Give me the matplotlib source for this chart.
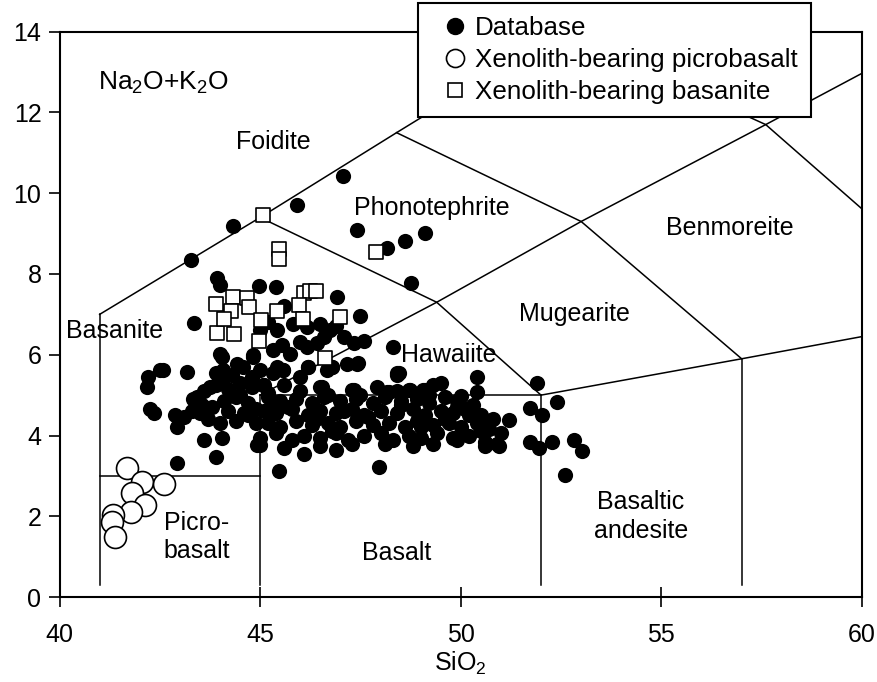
import matplotlib
matplotlib.use('Agg')
import matplotlib.pyplot as plt
from matplotlib.lines import Line2D

plt.rcParams['font.family'] = ['Liberation Sans', 'DejaVu Sans']
plt.rcParams['mathtext.fontset'] = 'custom'
plt.rcParams['mathtext.rm'] = 'Liberation Sans'
plt.rcParams['mathtext.it'] = 'Liberation Sans:italic'
plt.rcParams['mathtext.bf'] = 'Liberation Sans:bold'

# ---------------- data ----------------
db_x = [47.06, 45.91, 44.33, 43.28, 47.42, 48.15, 48.60, 49.10, 48.75,
        43.92, 44.00, 44.98, 45.40, 46.91, 47.50, 43.36, 48.30, 48.41, 48.45,
        45.00, 45.42, 45.83, 46.16, 46.50, 46.75, 47.08, 45.33, 45.75, 46.16,
        46.58, 47.33, 47.60, 44.83, 44.00, 44.42, 44.08, 44.58, 45.00, 45.42,
        46.00, 46.66, 47.16, 47.45, 46.79, 46.20, 45.54, 46.00, 46.41, 45.20,
        45.60, 46.90,
        42.59, 42.21, 42.17, 43.17, 42.26, 42.35, 42.88, 42.92, 43.33, 43.50,
        43.60, 44.04, 43.90, 42.92, 44.04, 44.83, 44.08, 43.75, 43.42, 44.92,
        42.51,
        43.60, 43.90, 44.20, 44.50, 44.80, 44.10, 44.40, 44.70, 43.80, 44.20,
        44.60, 44.90, 43.70, 44.00, 44.40, 44.70, 44.90, 43.30, 43.10, 44.30,
        44.80, 43.90, 44.50, 43.55,
        45.10, 45.60, 46.50, 47.30, 48.20, 48.70, 49.10, 49.50, 49.30, 50.00,
        50.40, 50.40, 47.90,
        45.20, 45.50, 45.90, 46.30, 46.60, 47.00, 47.40, 47.80, 48.10, 48.50,
        48.90, 49.20, 49.60, 49.90, 50.30,
        45.10, 45.40, 45.80, 46.20, 46.50, 46.90, 47.30, 47.60, 48.00, 48.40,
        48.80, 49.10, 49.50, 49.80, 50.10, 50.50, 50.80,
        45.20, 45.50, 45.90, 46.30, 46.70, 47.00, 47.40, 47.80, 48.20, 48.60,
        48.90, 49.30, 49.70, 50.00, 50.40, 50.70, 51.00,
        45.00, 45.40, 45.80, 46.10, 46.50, 46.90, 47.20, 47.60, 48.00, 48.30,
        48.70, 49.00, 49.40, 49.80, 50.20, 50.60, 50.90,
        45.00, 45.60, 46.10, 46.50, 46.90, 47.30, 48.10, 48.80, 49.30, 49.90,
        50.95, 50.60,
        45.46, 47.95, 51.20, 51.73, 52.02, 52.40, 51.90, 51.73, 52.27, 51.94,
        52.81, 53.02, 52.60, 50.65,
        45.08, 45.58, 46.54, 45.33, 45.58, 46.20, 46.79, 47.41, 48.41, 47.33,
        48.16, 48.74, 49.06,
        45.30, 45.70, 46.40, 46.80, 47.10, 47.70, 48.50, 49.00, 49.60, 50.20,
        45.20, 46.00, 46.70, 47.50, 48.40, 49.20, 49.90, 50.50]
db_y = [10.42, 9.72, 9.18, 8.34, 9.10, 8.64, 8.81, 9.02, 7.78,
        7.89, 7.72, 7.70, 7.67, 7.43, 6.95, 6.79, 6.18, 5.50, 5.56,
        6.61, 6.61, 6.77, 6.69, 6.77, 6.61, 6.44, 6.11, 6.03, 6.20,
        6.44, 6.28, 6.35, 5.95, 6.03, 5.78, 5.62, 5.70, 5.62, 5.70,
        5.45, 5.62, 5.78, 5.80, 5.70, 5.70, 6.24, 6.32, 6.28, 6.80,
        7.20, 6.70,
        5.62, 5.45, 5.21, 5.58, 4.65, 4.55, 4.50, 4.22, 4.90, 4.55,
        3.88, 3.93, 3.47, 3.31, 5.95, 5.99, 5.45, 5.21, 4.96, 3.76,
        5.62,
        5.10, 5.25, 5.15, 5.30, 5.20, 4.85, 4.95, 4.80, 4.70, 4.60,
        4.55, 4.65, 4.40, 4.30, 4.35, 4.50, 4.30, 4.60, 4.45, 5.50,
        5.45, 5.55, 5.00, 4.75,
        5.25, 5.25, 5.20, 5.12, 5.08, 5.12, 5.12, 5.30, 5.25, 4.98,
        5.08, 5.45, 5.20,
        4.95, 4.85, 4.90, 4.80, 4.95, 4.85, 4.90, 4.80, 4.95, 4.85,
        4.90, 4.80, 4.95, 4.85, 4.75,
        4.60, 4.55, 4.65, 4.50, 4.60, 4.55, 4.65, 4.50, 4.60, 4.55,
        4.65, 4.50, 4.60, 4.55, 4.65, 4.50, 4.40,
        4.30, 4.20, 4.35, 4.25, 4.30, 4.20, 4.35, 4.25, 4.30, 4.20,
        4.35, 4.25, 4.30, 4.20, 4.30, 4.15, 4.05,
        3.95, 4.05, 3.90, 4.00, 3.95, 4.05, 3.90, 4.00, 4.05, 3.90,
        4.00, 3.95, 4.05, 3.95, 4.00, 3.85, 3.80,
        3.76, 3.70, 3.55, 3.75, 3.65, 3.80, 3.80, 3.75, 3.80, 3.90,
        3.75, 3.75,
        3.12, 3.23, 4.38, 4.67, 4.50, 4.83, 5.29, 3.84, 3.84, 3.68,
        3.89, 3.62, 3.02, 4.22,
        5.25, 5.62, 5.21, 5.54, 5.62, 5.70, 5.70, 5.78, 5.54, 5.12,
        5.08, 5.12, 5.12,
        4.75, 4.70, 4.40, 4.10, 4.60, 4.45, 4.75, 4.20, 4.40, 4.50,
        5.05, 5.10, 5.00, 5.00, 5.10, 5.00, 4.70, 4.10]

pb_x = [41.68, 42.05, 42.61, 41.80, 42.13, 41.78, 41.34, 41.30, 41.38]
pb_y = [3.19, 2.85, 2.81, 2.57, 2.28, 2.11, 2.02, 1.86, 1.49]

bs_x = [45.07, 45.48, 45.46, 46.10, 46.25, 46.40, 44.33, 44.67, 43.90, 44.28,
        44.71, 45.43, 45.98, 46.98, 46.08, 45.02, 43.92, 44.35, 44.98, 46.62,
        47.89, 44.10]
bs_y = [9.46, 8.63, 8.38, 7.54, 7.58, 7.58, 7.43, 7.40, 7.25, 7.09,
        7.19, 7.09, 7.22, 6.94, 6.88, 6.87, 6.54, 6.51, 6.34, 5.91,
        8.54, 6.88]

# TAS field boundaries (Le Bas et al. 1986)
tas_lines = [
    [(41, 0.3), (41, 7)],
    [(41, 3), (45, 3)],
    [(45, 0.3), (45, 5)],
    [(45, 5), (52, 5)],
    [(52, 0.3), (52, 5)],
    [(57, 0.3), (57, 5.9)],
    [(52, 5), (57, 5.9), (63, 7)],
    [(45, 5), (49.4, 7.3), (53, 9.3), (57.6, 11.7), (61, 13.5)],
    [(41, 7), (45, 9.4), (48.4, 11.5), (52.5, 14)],
    [(45, 9.4), (49.4, 7.3), (52, 5)],
    [(48.4, 11.5), (53, 9.3), (57, 5.9)],
    [(52.5, 14), (57.6, 11.7), (63, 7)],
]

field_names = ['Foidite', 'Phonotephrite', 'Benmoreite', 'Mugearite', 'Hawaiite',
               'Basanite', 'Picro-', 'basalt', 'Basalt', 'Basaltic', 'andesite']
field_x = [45.33, 49.28, 56.70, 52.84, 49.70, 41.36, 43.42, 43.42, 48.40, 54.49, 54.49]
field_y = [11.27, 9.64, 9.14, 7.01, 5.99, 6.58, 1.83, 1.14, 1.09, 2.35, 1.63]

legend_labels = ['Database', 'Xenolith-bearing picrobasalt', 'Xenolith-bearing basanite']

x_ticks = [40, 45, 50, 55, 60]
y_ticks = [0, 2, 4, 6, 8, 10, 12, 14]

# ---------------- figure ----------------
fig = plt.figure(figsize=(8.78, 6.82), dpi=100)
ax = fig.add_axes([0.0678, 0.1246, 0.9140, 0.8289])

for seg in tas_lines:
    xs = [p[0] for p in seg]
    ys = [p[1] for p in seg]
    ax.plot(xs, ys, color='black', lw=1.1, zorder=1, clip_on=True)

ax.scatter(db_x, db_y, s=120, c='black', marker='o', linewidths=0, zorder=3)
ax.scatter(pb_x, pb_y, s=250, facecolors='white', edgecolors='black',
           marker='o', linewidths=1.2, zorder=4)
ax.scatter(bs_x, bs_y, s=115, facecolors='white', edgecolors='black',
           marker='s', linewidths=1.2, zorder=5)

for name, fx, fy in zip(field_names, field_x, field_y):
    ax.text(fx, fy, name, ha='center', va='center', fontsize=18, zorder=6)

ax.text(40.95, 12.72, r'Na$_2$O+K$_2$O', ha='left', va='center', fontsize=19)

ax.set_xlim(40, 60)
ax.set_ylim(0, 14)
ax.set_xticks(x_ticks)
ax.set_yticks(y_ticks)
ax.tick_params(axis='x', direction='inout', length=14, width=1.2, labelsize=18, pad=12)
ax.tick_params(axis='y', direction='out', length=8, width=1.2, labelsize=18, pad=5)
for sp in ax.spines.values():
    sp.set_linewidth(1.5)
ax.set_xlabel('SiO$_2$', fontsize=18, labelpad=2)

handles = [
    Line2D([], [], ls='none', marker='o', ms=11.5, mfc='black', mec='black'),
    Line2D([], [], ls='none', marker='o', ms=13, mfc='white', mec='black', mew=1.2),
    Line2D([], [], ls='none', marker='s', ms=10.5, mfc='white', mec='black', mew=1.2),
]
leg = ax.legend(handles=handles, labels=legend_labels, loc='upper left',
                bbox_to_anchor=(0.4467, 1.050),
                fontsize=18.7, frameon=True, fancybox=False, edgecolor='black',
                framealpha=1, borderpad=0.5, labelspacing=0.3, handletextpad=-0.15,
                handlelength=1.85, borderaxespad=0)
leg.get_frame().set_linewidth(1.5)
leg.set_zorder(10)

fig.savefig('out.png', dpi=100)
